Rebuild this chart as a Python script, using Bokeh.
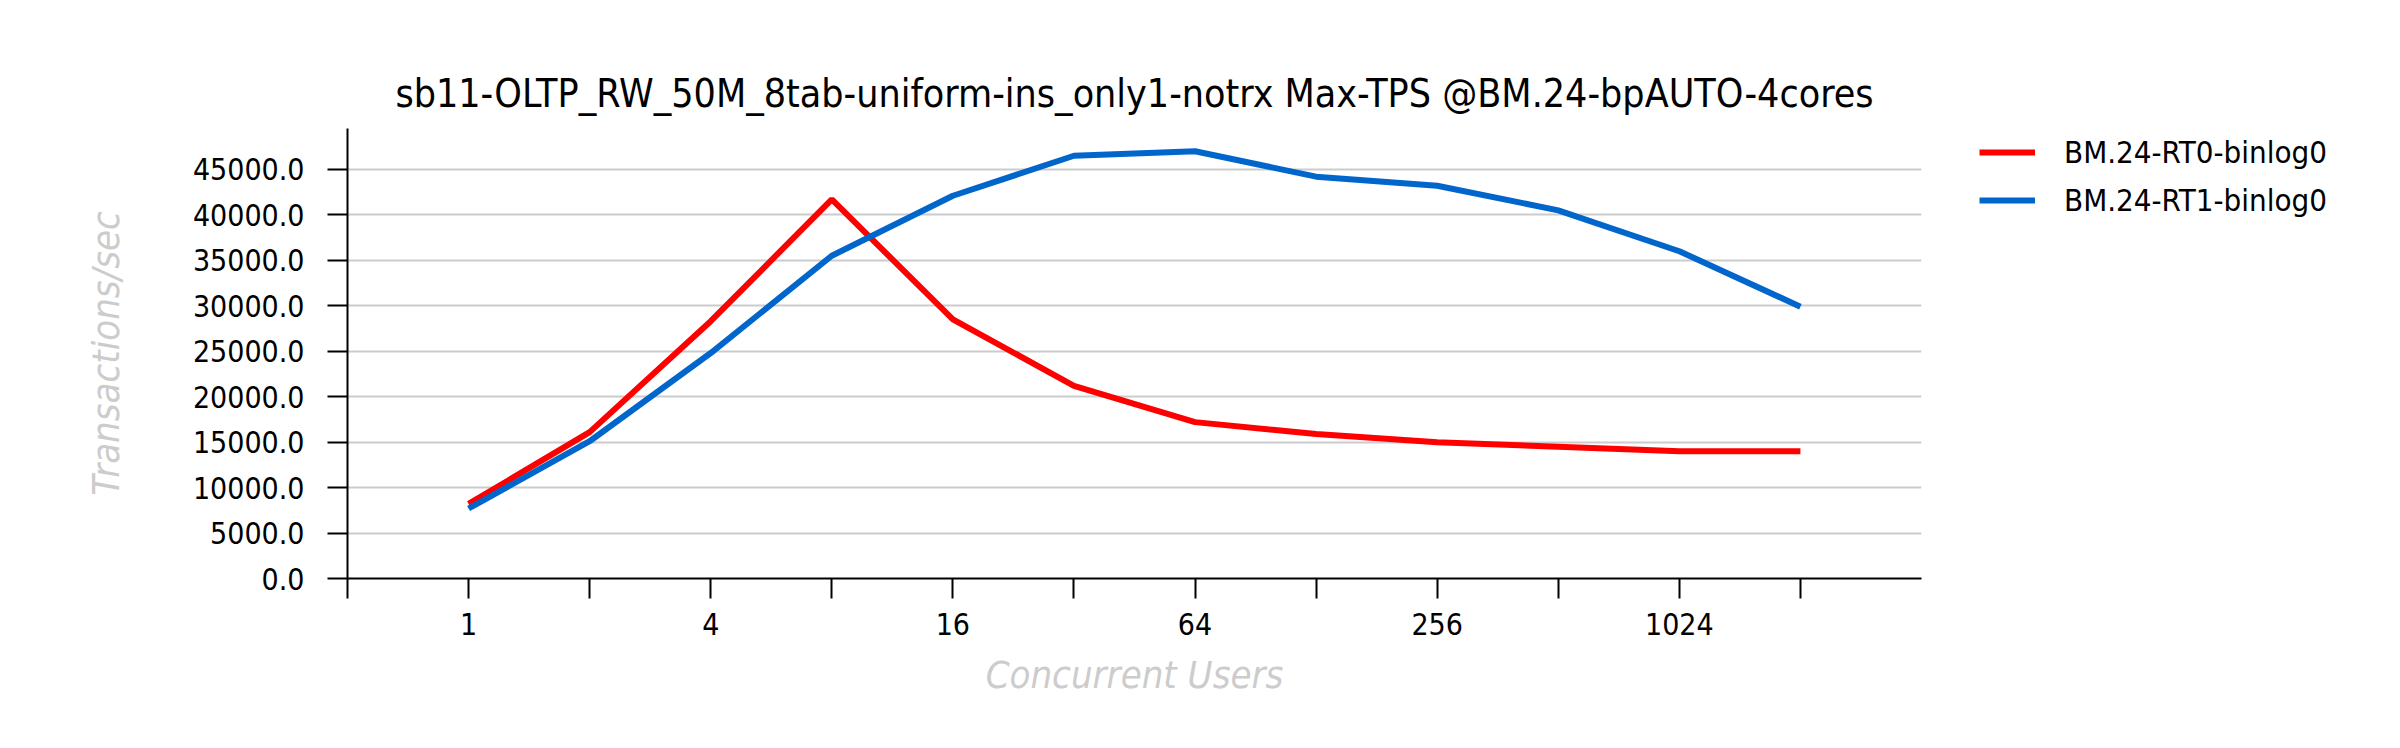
from bokeh.plotting import figure
from bokeh.layouts import row
from bokeh.models import FixedTicker, PrintfTickFormatter, Legend, LegendItem
from bokeh.embed import file_html
from bokeh.resources import INLINE

# ---- data ----
users = [1, 2, 4, 8, 16, 32, 64, 128, 256, 512, 1024, 2048]
rt0_tps = [8200, 16100, 28300, 41700, 28500, 21200, 17200, 15900, 15000, 14500, 14000, 14000]
rt1_tps = [7700, 15100, 24800, 35500, 42100, 46500, 47000, 44200, 43200, 40500, 36000, 29900]
series_names = ["BM.24-RT0-binlog0", "BM.24-RT1-binlog0"]
series_colors = ["#ff0000", "#0066cc"]
x_ticks = [0.5, 1, 2, 4, 8, 16, 32, 64, 128, 256, 512, 1024, 2048]
x_tick_labels = ["", "1", "", "4", "", "16", "", "64", "", "256", "", "1024", ""]
y_ticks = [0, 5000, 10000, 15000, 20000, 25000, 30000, 35000, 40000, 45000]
title_text = "sb11-OLTP_RW_50M_8tab-uniform-ins_only1-notrx Max-TPS @BM.24-bpAUTO-4cores"
x_title = "Concurrent Users"
y_title = "Transactions/sec"

FONT = "DejaVu Sans Condensed, DejaVu Sans, sans-serif"
LINE_W = 6

p = figure(width=1960, height=732, x_axis_type="log", x_range=(0.5, 4096), y_range=(0, 49500),
           output_backend="svg", toolbar_location=None, title=title_text)
p.min_border_left = 347
p.min_border_right = 39
p.min_border_top = 128
p.min_border_bottom = 154
p.outline_line_color = None
p.background_fill_color = "white"
p.border_fill_color = "white"

p.title.text_font = FONT
p.title.text_font_size = "39px"
p.title.text_font_style = "normal"
p.title.align = "center"
p.title.text_color = "#000000"
p.title.standoff = 25

p.line(users, rt0_tps, line_color=series_colors[0], line_width=LINE_W)
p.line(users, rt1_tps, line_color=series_colors[1], line_width=LINE_W)

# axes
xa = p.xaxis[0]
xa.ticker = FixedTicker(ticks=x_ticks)
xa.major_label_overrides = {t: l for t, l in zip(x_ticks, x_tick_labels)}
xa.minor_tick_line_color = None
xa.major_tick_out = 20
xa.major_tick_in = 0
xa.major_tick_line_width = 2
xa.axis_line_width = 2
xa.axis_line_color = "black"
xa.major_tick_line_color = "black"
xa.major_label_text_font = FONT
xa.major_label_text_font_size = "30px"
xa.major_label_text_color = "black"
xa.major_label_standoff = 14
xa.axis_label = x_title
xa.axis_label_text_font = FONT
xa.axis_label_text_font_size = "38px"
xa.axis_label_text_font_style = "italic"
xa.axis_label_text_color = "#cccccc"
xa.axis_label_standoff = 15

ya = p.yaxis[0]
ya.ticker = FixedTicker(ticks=y_ticks)
ya.formatter = PrintfTickFormatter(format="%.1f")
ya.minor_tick_line_color = None
ya.major_tick_out = 20
ya.major_tick_in = 0
ya.major_tick_line_width = 2
ya.axis_line_width = 2
ya.axis_line_color = "black"
ya.major_tick_line_color = "black"
ya.major_label_text_font = FONT
ya.major_label_text_font_size = "30px"
ya.major_label_text_color = "black"
ya.major_label_standoff = 23
ya.axis_label = y_title
ya.axis_label_text_font = FONT
ya.axis_label_text_font_size = "38px"
ya.axis_label_text_font_style = "italic"
ya.axis_label_text_color = "#cccccc"
ya.axis_label_standoff = 62

p.xgrid.grid_line_color = None
p.ygrid.ticker = FixedTicker(ticks=y_ticks)
p.ygrid.grid_line_color = "#cccccc"
p.ygrid.grid_line_width = 2

# ---- legend panel (separate figure to the right) ----
lg = figure(width=424, height=732, x_range=(-10, -9), y_range=(-10, -9),
            output_backend="svg", toolbar_location=None,
            x_axis_location=None, y_axis_location=None)
lg.min_border_left = 0
lg.min_border_right = 0
lg.min_border_top = 128
lg.min_border_bottom = 154
lg.outline_line_color = None
lg.xgrid.visible = False
lg.ygrid.visible = False
lr0 = lg.line(users, rt0_tps, line_color=series_colors[0], line_width=LINE_W)
lr1 = lg.line(users, rt1_tps, line_color=series_colors[1], line_width=LINE_W)

legend = Legend(items=[LegendItem(label=series_names[0], renderers=[lr0]),
                       LegendItem(label=series_names[1], renderers=[lr1])],
                location=(19, 358))
legend.padding = 0
legend.margin = 0
legend.spacing = 8
legend.glyph_width = 56
legend.glyph_height = 40
legend.label_height = 40
legend.label_standoff = 29
legend.label_text_font = FONT
legend.label_text_font_size = "31px"
legend.label_text_color = "black"
legend.border_line_color = None
legend.background_fill_alpha = 0
lg.add_layout(legend, "center")

layout = row(p, lg, spacing=0)
open("out.html", "w").write(file_html(layout, INLINE))
